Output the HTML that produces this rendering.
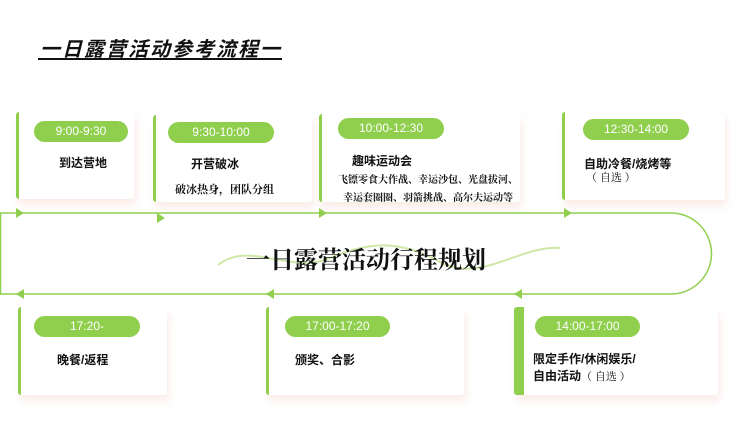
<!DOCTYPE html>
<html><head><meta charset="utf-8"><style>
body{margin:0;width:750px;height:421px;background:#fff;position:relative;overflow:hidden;font-family:"Liberation Sans","Noto Sans CJK SC",sans-serif;}
.card{position:absolute;background:#fff;border-left:3px solid #8fcf4d;border-radius:3px;box-shadow:2px 6px 8px rgba(240,200,190,0.35);}
.pill{position:absolute;background:#8fcf4d;color:#fff;border-radius:11px;text-align:center;font-size:12px;line-height:21px;}
.t{position:absolute;font-weight:bold;font-size:12px;color:#111;white-space:nowrap;}
.s{position:absolute;font-family:"Noto Serif CJK SC",serif;font-size:10px;color:#111;white-space:nowrap;font-weight:bold;}
</style></head><body>
<div style="position:absolute;left:40px;top:33px;font-size:20px;font-weight:bold;font-style:italic;color:#111;letter-spacing:2px;">一日露营活动参考流程一</div>
<div style="position:absolute;left:38px;top:58px;width:244px;height:2px;background:#111;"></div>

<svg style="position:absolute;left:0;top:0" width="750" height="421">
<path d="M0.5 213 H671 A40.5 40.5 0 0 1 671 294 H0.5 Z" fill="none" stroke="#8fcf4d" stroke-width="1.5"/>
<g fill="#8fcf4d">
<polygon points="16,208 24,213 16,218"/>
<polygon points="157,213 165,218 157,223"/>
<polygon points="319,208 327,213 319,218"/>
<polygon points="564,208 572,213 564,218"/>
<polygon points="24,289 16,294 24,299"/>
<polygon points="274,289 266,294 274,299"/>
<polygon points="522,289 514,294 522,299"/>
</g>
<path d="M218 265 C250 240,290 275,330 258 S400 240,440 262 S520 245,560 248" fill="none" stroke="#cfe8a8" stroke-width="2"/>
</svg>
<div style="position:absolute;left:0;width:732px;top:240px;text-align:center;font-family:'Noto Serif CJK SC',serif;font-weight:bold;font-size:24px;color:#111;letter-spacing:0px;">一日露营活动行程规划</div>

<div class="card" style="left:16px;top:112px;width:115px;height:87px;"></div>
<div class="pill" style="left:34px;top:121px;width:94px;">9:00-9:30</div>
<div class="t" style="left:59px;top:154px;">到达营地</div>

<div class="card" style="left:153px;top:115px;width:156px;height:87px;"></div>
<div class="pill" style="left:168px;top:122px;width:106px;">9:30-10:00</div>
<div class="t" style="left:191px;top:155px;">开营破冰</div>
<div class="s" style="left:175px;top:181px;font-size:11px;">破冰热身，团队分组</div>

<div class="card" style="left:319px;top:114px;width:198px;height:88px;"></div>
<div class="pill" style="left:338px;top:118px;width:106px;">10:00-12:30</div>
<div class="t" style="left:352px;top:152px;">趣味运动会</div>
<div class="s" style="left:338px;top:171px;">飞镖零食大作战、幸运沙包、光盘拔河、</div>
<div class="s" style="left:343px;top:189px;">幸运套圈圈、羽箭挑战、高尔夫运动等</div>

<div class="card" style="left:562px;top:112px;width:160px;height:88px;"></div>
<div class="pill" style="left:583px;top:119px;width:106px;">12:30-14:00</div>
<div class="t" style="left:584px;top:155px;">自助冷餐/烧烤等</div>
<div class="s" style="left:586px;top:169px;font-size:11px;font-weight:normal;">（ 自选 ）</div>

<div class="card" style="left:18px;top:307px;width:146px;height:88px;"></div>
<div class="pill" style="left:34px;top:316px;width:106px;">17:20-</div>
<div class="t" style="left:57px;top:351px;">晚餐/返程</div>

<div class="card" style="left:266px;top:307px;width:195px;height:88px;"></div>
<div class="pill" style="left:285px;top:316px;width:105px;">17:00-17:20</div>
<div class="t" style="left:295px;top:351px;">颁奖、合影</div>

<div class="card" style="left:514px;top:307px;width:194px;height:88px;border-left-width:10px;"></div>
<div class="pill" style="left:535px;top:316px;width:105px;">14:00-17:00</div>
<div class="t" style="left:533px;top:350px;">限定手作/休闲娱乐/</div>
<div class="t" style="left:533px;top:367px;">自由活动<span style="font-family:'Noto Serif CJK SC',serif;font-weight:normal;font-size:11px;">（ 自选 ）</span></div>
</body></html>
